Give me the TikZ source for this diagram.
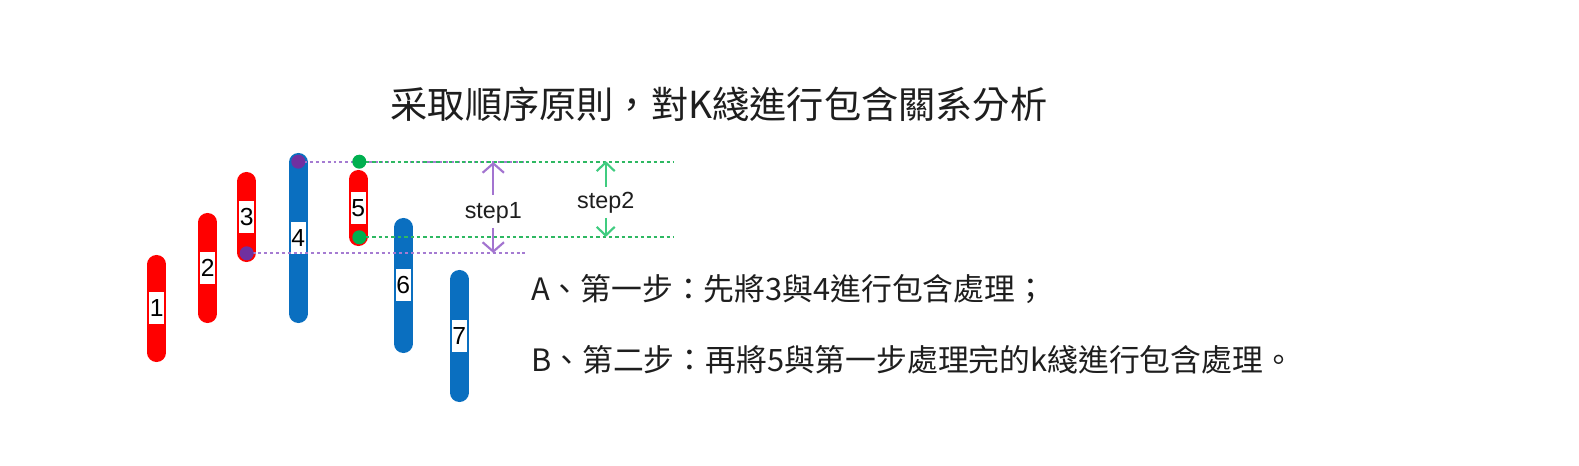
\documentclass[tikz,border=0pt]{standalone}
\usepackage{fontspec}
\setmainfont{Liberation Sans}
\newfontfamily\cjk{Noto Sans CJK TC}
\usetikzlibrary{arrows.meta}
\definecolor{kred}{HTML}{FF0000}
\definecolor{kblue}{HTML}{0A6FC0}
\definecolor{pdotc}{HTML}{7030A0}
\definecolor{plinec}{HTML}{A57BD2}
\definecolor{parrowc}{HTML}{A374D0}
\definecolor{gdotc}{HTML}{00B050}
\definecolor{glinec}{HTML}{2EB862}
\definecolor{garrowc}{HTML}{40CC80}
\definecolor{txtc}{HTML}{1E1E1E}
\begin{document}
\begin{tikzpicture}[x=0.75pt,y=-0.75pt,
  kbar/.style={line width=14pt,line cap=round},
  numbox/.style={fill=white,inner sep=0pt,minimum width=11.25pt,minimum height=24pt,font=\fontsize{18.5pt}{20pt}\selectfont,text=black},
  dotnode/.style={circle,inner sep=0pt,minimum size=10.5pt},
  pline/.style={draw=plinec,line width=1.6pt,dash pattern=on 2.2pt off 2.2pt},
  gline/.style={draw=glinec,line width=1.4pt,dash pattern=on 2.6pt off 2.2pt},
  parrow/.style={draw=parrowc,line width=1.6pt,-{Straight Barb[length=7pt,width=16pt,line width=1.6pt]}},
  garrow/.style={draw=garrowc,line width=1.6pt,-{Straight Barb[length=6.5pt,width=13.5pt,line width=1.6pt]}},
  steplbl/.style={font=\fontsize{17.5pt}{20pt}\selectfont,text=txtc,inner sep=0pt},
  cjktext/.style={font=\cjk\fontsize{23.1pt}{28pt}\selectfont,text=txtc,inner sep=0pt,anchor=west}
]
\useasboundingbox[fill=white] (0,0) rectangle (1579,466);

% title
\node[font=\cjk\fontsize{27.9pt}{32pt}\selectfont,text=txtc,inner sep=0pt] (title) at (719,104) {采取順序原則，對K綫進行包含關系分析};

% bars
\foreach \n/\x/\t/\b/\c in {1/156.7/255/362/kred,2/207.7/213/323/kred,3/246.7/172/262/kred,4/298.3/153/323/kblue,5/358.3/170/246/kred,6/403.3/218/353/kblue,7/459.3/270/402/kblue}{
  \draw[kbar,draw=\c] (\x,\t+9.3) -- (\x,\b-9.3);
  \node[numbox] (n\n) at (\x,{(\t+\b)/2}) {\n};
}

% reference coordinates for line ends
\coordinate (pe1) at (525,161.7);
\coordinate (pe2) at (525,253.3);
\coordinate (ge1) at (673,161.7);
\coordinate (ge2) at (673,237.3);

% dots
\node[dotnode] (p1) at (298.3,161.7) {};
\node[dotnode] (p2) at (246.7,253.3) {};
\node[dotnode] (g1) at (359.3,161.7) {};
\node[dotnode] (g2) at (359.3,237.3) {};

% lines
\draw[pline] (p1.center) -- (pe1);
\draw[pline] (p2.center) -- (pe2);
\draw[gline] (g1.center) -- (ge1);
\draw[gline] (g2.center) -- (ge2);

\fill[pdotc] (p1) circle[radius=5.25pt];
\fill[pdotc] (p2) circle[radius=5.25pt];
\fill[gdotc] (g1) circle[radius=5.25pt];
\fill[gdotc] (g2) circle[radius=5.25pt];

% step labels and arrows
\node[steplbl] (s1) at (493.3,213) {step1};
\node[steplbl] (s2) at (605.7,203) {step2};
\coordinate (s1a) at (493.3,195);
\coordinate (s1t) at (493.3,162);
\coordinate (s1b) at (493.3,228);
\coordinate (s1u) at (493.3,253);
\coordinate (s2a) at (605.7,187);
\coordinate (s2t) at (605.7,161);
\coordinate (s2b) at (605.7,218);
\coordinate (s2u) at (605.7,237);
\draw[parrow] (s1a) -- (s1t);
\draw[parrow] (s1b) -- (s1u);
\draw[garrow] (s2a) -- (s2t);
\draw[garrow] (s2b) -- (s2u);

% texts
\node[cjktext] (ta) at (531,289) {A、第一步：先將3與4進行包含處理；};
\node[cjktext] (tb) at (531,360) {B、第二步：再將5與第一步處理完的k綫進行包含處理。};
\end{tikzpicture}
\end{document}
